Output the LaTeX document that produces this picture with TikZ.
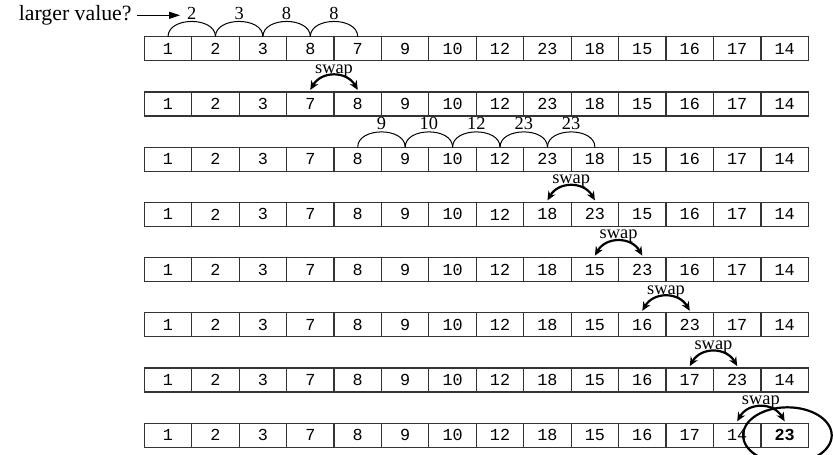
\documentclass[tikz,border=0pt]{standalone}
\usepackage{fontspec}
\setmainfont{Liberation Serif}
\setmonofont{Liberation Mono}
\usetikzlibrary{arrows.meta}

\tikzset{
  cell/.style={draw=black!80,line width=0.6pt,minimum width=23.715pt,minimum height=12pt,
    inner sep=0pt,outer sep=0pt,font=\fontsize{8.4}{10}\ttfamily},
  cmp/.style={line width=0.5pt},
  swaparrow/.style={line width=1.1pt,{Stealth[length=4.5pt,width=4pt]}-{Stealth[length=4.5pt,width=4pt]}},
  lbl/.style={font=\fontsize{9.2}{10}\selectfont,anchor=base,inner sep=0pt,yshift=1.2pt},
  hilite/.style={line width=1.1pt}
}

\begin{document}
\begin{tikzpicture}[x=0.5pt,y=0.5pt,>={Triangle[length=5.5pt,width=3.5pt]}]
\useasboundingbox (0,0) rectangle (833,-454);
% the array after each step
\foreach \vals [count=\r] in {
  {1,2,3,8,7,9,10,12,23,18,15,16,17,14},
  {1,2,3,7,8,9,10,12,23,18,15,16,17,14},
  {1,2,3,7,8,9,10,12,23,18,15,16,17,14},
  {1,2,3,7,8,9,10,12,18,23,15,16,17,14},
  {1,2,3,7,8,9,10,12,18,15,23,16,17,14},
  {1,2,3,7,8,9,10,12,18,15,16,23,17,14},
  {1,2,3,7,8,9,10,12,18,15,16,17,23,14},
  {1,2,3,7,8,9,10,12,18,15,16,17,14,\textbf{23}}}
  \foreach \v [count=\i from 0] in \vals
    \node[cell] (c\r-\i) at ({144.3+47.43*(\i+0.5)},{-48.7-55.23*(\r-1)}) {\v};
% comparisons
\node[anchor=base east,inner sep=0pt,font=\fontsize{10.9}{12}\selectfont] (q) at (132,-20.5) {larger value?};
\coordinate (qend) at (180,-17);
\draw[->,line width=0.5pt,shorten <=2.3pt] (q.east) -- (q.east -| qend);
\foreach \a/\b/\n in {0/1/2,1/2/3,2/3/8,3/4/8}
  \draw[cmp] (c1-\a.north) to[out=90,in=90,looseness=1.1] node[lbl] {\n} (c1-\b.north);
\foreach \a/\b/\n in {4/5/9,5/6/10,6/7/12,7/8/23,8/9/23}
  \draw[cmp] (c3-\a.north) to[out=90,in=90,looseness=1.1] node[lbl] {\n} (c3-\b.north);
% swaps
\foreach \r/\a/\b in {2/3/4,4/8/9,5/9/10,6/10/11,7/11/12,8/12/13}
  \draw[swaparrow] ([yshift=1pt]c\r-\a.north) to[out=60,in=120,looseness=1.2]
    node[lbl] {swap} ([yshift=1pt]c\r-\b.north);
\draw[hilite] ([xshift=1.4pt]c8-13.center) ellipse [x radius=44.3,y radius=28];
\end{tikzpicture}
\end{document}
